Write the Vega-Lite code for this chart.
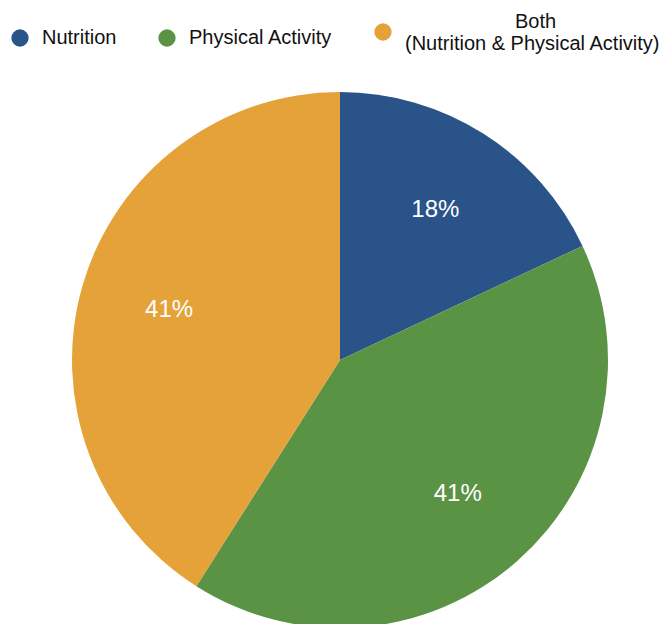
{
  "$schema": "https://vega.github.io/schema/vega-lite/v6.json",
  "width": 660,
  "height": 528,
  "autosize": "none",
  "padding": {"left": 10, "top": 96, "right": 0, "bottom": 0},
  "background": "white",
  "config": {"view": {"stroke": null}, "font": "Liberation Sans"},
  "data": {
    "values": [
      {"category": "Nutrition", "value": 18, "label": "18%", "order": 1},
      {"category": "Physical Activity", "value": 41, "label": "41%", "order": 2},
      {"category": "Both", "value": 41, "label": "41%", "order": 3}
    ]
  },
  "encoding": {
    "theta": {"field": "value", "type": "quantitative", "stack": true},
    "order": {"field": "order", "type": "quantitative"},
    "color": {
      "field": "category",
      "type": "nominal",
      "scale": {
        "domain": ["Nutrition", "Physical Activity", "Both"],
        "range": ["#2a5389", "#5b9345", "#e4a239"]
      },
      "legend": {
        "title": null,
        "orient": "none",
        "direction": "horizontal",
        "columns": 3,
        "legendX": 0,
        "legendY": -74,
        "symbolType": "circle",
        "symbolSize": 300,
        "symbolStrokeWidth": 0,
        "labelFontSize": 20,
        "labelColor": "#111111",
        "labelOffset": 12,
        "labelLimit": 400,
        "labelBaseline": {"expr": "datum.label == 'Both' ? 'bottom' : 'middle'"},
        "columnPadding": 40,
        "labelExpr": "datum.label == 'Both' ? ['\u200b\u2002\u2002\u2002\u2002\u2002\u2002\u2002\u2002\u2002\u2002\u2002Both', '(Nutrition & Physical Activity)'] : datum.label"
      }
    }
  },
  "layer": [
    {"mark": {"type": "arc", "radius": 268}},
    {
      "mark": {"type": "text", "radius": 178, "fontSize": 24, "fill": "white"},
      "encoding": {"text": {"field": "label"}}
    }
  ]
}
